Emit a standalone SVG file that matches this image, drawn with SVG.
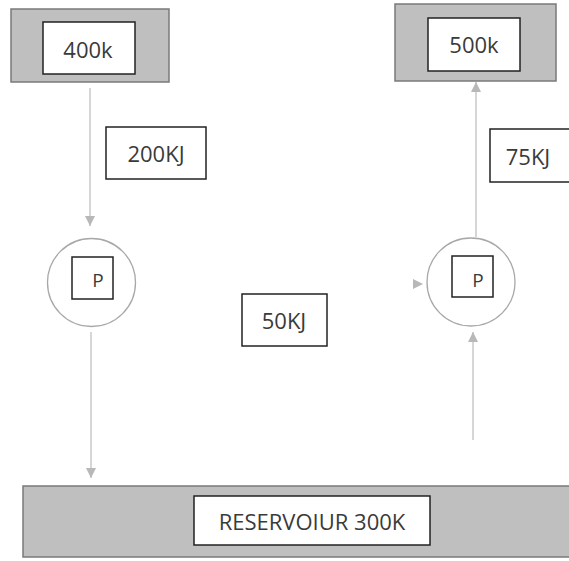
<svg xmlns="http://www.w3.org/2000/svg" width="569" height="561" viewBox="0 0 569 561">
<style>
.outer{fill:#bfbfbf;stroke:#7a7a7a;stroke-width:1.5}
.box{fill:#ffffff;stroke:#222;stroke-width:1.5}
.circ{fill:#ffffff;stroke:#a8a8a8;stroke-width:1.3}
.t{font-family:"Open Sans","Liberation Sans",sans-serif;fill:#3a3a3a;text-anchor:middle;dominant-baseline:central}
.c{stroke:#c8c8c8;stroke-width:1.5;fill:none}
</style>
<defs>
<marker id="ah" viewBox="0 0 10 10" refX="10" refY="5" markerWidth="10" markerHeight="10" markerUnits="userSpaceOnUse" orient="auto">
<path d="M0,0 L10,5 L0,10 Z" fill="#b8b8b8"/>
</marker>
</defs>
<g id="connectors">
<path class="c" d="M90,88 L90,226" marker-end="url(#ah)"/>
<path class="c" d="M91,332 L91,478" marker-end="url(#ah)"/>
<path class="c" d="M476,237 L476,82" marker-end="url(#ah)"/>
<path class="c" d="M473,440 L473,332" marker-end="url(#ah)"/>
<path d="M412,284 L423,284" stroke="#f4f4f4" stroke-width="1" fill="none" marker-end="url(#ah)"/>
</g>
<g id="hot400">
<rect class="outer" x="11" y="9" width="158" height="73"/>
<rect class="box" x="43" y="22" width="92" height="52"/>
<text class="t" x="88" y="49" font-size="22">400k</text>
</g>
<g id="hot500">
<rect class="outer" x="395" y="4" width="161" height="77"/>
<rect class="box" x="428" y="18" width="92" height="53"/>
<text class="t" x="474" y="44" font-size="22">500k</text>
</g>
<g id="label200">
<rect class="box" x="106" y="127" width="100" height="52"/>
<text class="t" x="156" y="153" font-size="22">200KJ</text>
</g>
<g id="label75">
<rect class="box" x="490" y="129" width="80" height="53"/>
<text class="t" x="528" y="156" font-size="22">75KJ</text>
</g>
<g id="label50">
<rect class="box" x="242" y="294" width="85" height="52"/>
<text class="t" x="284" y="320" font-size="22">50KJ</text>
</g>
<g id="pumpLeft">
<circle class="circ" cx="91.5" cy="282.5" r="44"/>
<rect class="box" x="72" y="257" width="41" height="42"/>
<text class="t" x="98" y="280" font-size="19">P</text>
</g>
<g id="pumpRight">
<circle class="circ" cx="471" cy="282" r="44"/>
<rect class="box" x="452" y="256" width="41" height="41"/>
<text class="t" x="478" y="280" font-size="19">P</text>
</g>
<g id="reservoir">
<rect class="outer" x="23" y="486" width="550" height="71"/>
<rect class="box" x="194" y="496" width="236" height="49"/>
<text class="t" x="312" y="521" font-size="22">RESERVOIUR 300K</text>
</g>
</svg>
